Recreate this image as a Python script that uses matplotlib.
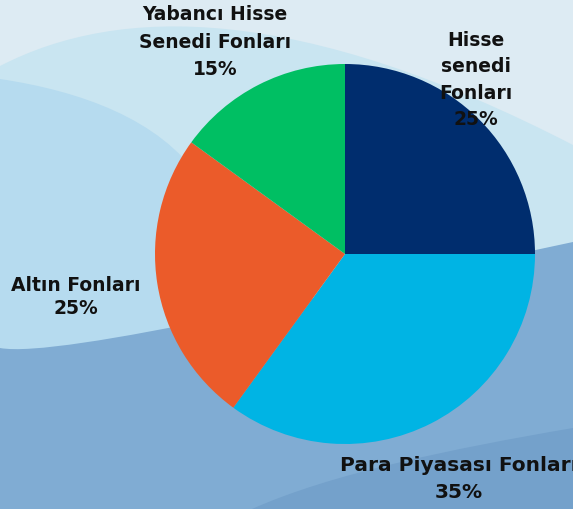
import matplotlib.pyplot as plt
from matplotlib.path import Path
from matplotlib.patches import PathPatch

# veriler
funds = ['Hisse\nsenedi\nFonları', 'Para Piyasası Fonları', 'Altın Fonları', 'Yabancı Hisse\nSenedi Fonları']
shares = [25, 35, 25, 15]
colors = ['#002D6E', '#00B4E4', '#EB5B2A', '#00BF63']

# konum ayarlari (piksel, y yukari)
label_pos = [(476, 429), (459, 30), (76, 212), (215, 467)]
label_spacing = [1.5, 1.5, 1.25, 1.55]
label_size = [13.5, 14.5, 13.5, 13.5]

plt.rcParams['font.family'] = ['DejaVu Sans']

fig = plt.figure(figsize=(5.73, 5.09), dpi=100)
ax = fig.add_axes([0, 0, 1, 1])

def wave(top, color, z, bottom=0):
    # top: baslangic + her egri icin 3 kontrol noktasi
    verts = list(top) + [(top[-1][0], bottom), (top[0][0], bottom), top[0]]
    codes = [Path.MOVETO] + [Path.CURVE4] * (len(top) - 1) + [Path.LINETO, Path.LINETO, Path.CLOSEPOLY]
    ax.add_patch(PathPatch(Path(verts, codes), facecolor=color, edgecolor='none', zorder=z))

# arka plan dalgalari
ax.add_patch(plt.Rectangle((0, 0), 573, 509, color='#DDEBF3', zorder=0))
wave([(0, 443), (120, 505), (300, 505), (573, 364)], '#C9E5F1', 1)
wave([(0, 430), (80, 418), (160, 390), (200, 330), (240, 270), (240, 200), (240, 150)], '#B6DBEF', 2)
wave([(0, 161), (60, 150), (350, 220), (573, 267)], '#80ACD3', 3)
wave([(252, 0), (330, 35), (450, 60), (573, 81)], '#74A1CB', 4)

ax.pie(shares, colors=colors, startangle=90, counterclock=False,
       center=(345, 255), radius=190, frame=True,
       wedgeprops={'linewidth': 0, 'zorder': 5})
ax.set_xlim(0, 573)
ax.set_ylim(0, 509)
ax.set_aspect('equal')
ax.axis('off')

for name, val, (x, y), sp, fs in zip(funds, shares, label_pos, label_spacing, label_size):
    ax.text(x, y, f"{name}\n{val}%", ha='center', va='center', fontsize=fs,
            fontweight='bold', color='#111111', linespacing=sp, zorder=6)

fig.savefig('out.png', dpi=100)
